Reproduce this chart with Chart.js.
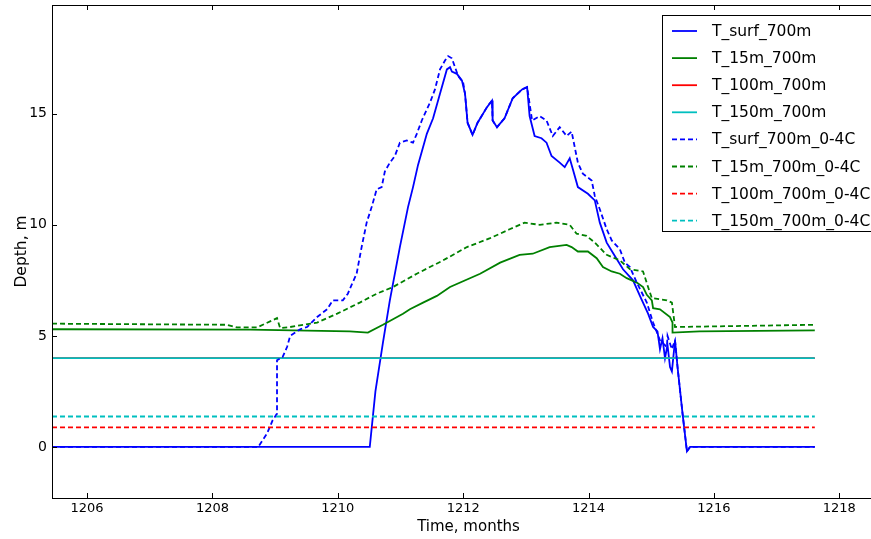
<!DOCTYPE html>
<html>
<head>
<meta charset="utf-8">
<script src="https://cdn.jsdelivr.net/npm/chart.js@4.4.1/dist/chart.umd.min.js"></script>
<style>
  html, body { margin: 0; padding: 0; background: #fff; overflow: hidden; }
  #wrap { width: 890px; height: 539px; }
</style>
</head>
<body>
<div id="wrap"><canvas id="myChart" width="890" height="539"></canvas></div>
<script>
// depth series, [time in months, depth in m]
var surf = [[1205.44,0],[1210.51,0],[1210.60,2.5],[1210.72,4.7],[1210.83,6.6],[1210.99,9.0],[1211.12,10.8],
  [1211.20,11.7],[1211.28,12.7],[1211.42,14.1],[1211.52,14.8],[1211.63,15.9],[1211.74,17.0],[1211.79,17.1],
  [1211.82,16.9],[1211.90,16.8],[1211.98,16.5],[1212.03,15.9],[1212.07,14.6],[1212.15,14.05],[1212.23,14.6],
  [1212.38,15.3],[1212.46,15.6],[1212.47,14.7],[1212.54,14.4],[1212.66,14.8],[1212.79,15.7],[1212.94,16.1],
  [1213.02,16.2],[1213.06,14.9],[1213.14,14.0],[1213.25,13.9],[1213.33,13.7],[1213.41,13.1],[1213.54,12.8],
  [1213.62,12.6],[1213.70,13.0],[1213.75,12.5],[1213.83,11.7],[1213.99,11.4],[1214.10,11.1],[1214.18,10.1],
  [1214.29,9.2],[1214.42,8.6],[1214.55,8.0],[1214.71,7.5],[1214.82,6.8],[1214.95,6.0],[1215.03,5.4],
  [1215.10,5.2],[1215.14,4.4],[1215.18,4.9],[1215.22,4.0],[1215.26,4.6],[1215.30,3.6],[1215.33,3.4],
  [1215.38,4.8],[1215.42,3.6],[1215.50,1.5],[1215.57,-0.2],[1215.62,0],[1217.61,0]];
var t15 = [[1205.44,5.3],[1208.60,5.28],[1210.19,5.2],[1210.48,5.15],[1210.72,5.5],[1211.04,6.0],[1211.15,6.2],
  [1211.36,6.5],[1211.58,6.8],[1211.79,7.2],[1212.27,7.8],[1212.59,8.3],[1212.90,8.65],[1213.11,8.7],
  [1213.38,9.0],[1213.65,9.1],[1213.73,9.0],[1213.83,8.8],[1213.99,8.8],[1214.13,8.5],[1214.23,8.1],
  [1214.37,7.9],[1214.50,7.8],[1214.61,7.6],[1214.69,7.5],[1214.77,7.4],[1214.87,7.2],[1214.93,6.85],
  [1215.01,6.6],[1215.03,6.25],[1215.14,6.2],[1215.30,5.85],[1215.34,5.6],[1215.34,5.15],[1215.77,5.2],
  [1217.61,5.25]];
var t100 = [[1205.44,4.0],[1217.61,4.0]];
var t150 = [[1205.44,4.0],[1217.61,4.0]];
var surfC = [[1205.44,0],[1208.73,0],[1208.87,0.6],[1208.96,1.2],[1209.03,1.5],[1209.03,3.9],[1209.12,4.05],
  [1209.19,4.5],[1209.24,5.0],[1209.40,5.3],[1209.51,5.4],[1209.67,5.85],[1209.83,6.2],[1209.92,6.6],
  [1210.08,6.6],[1210.16,6.9],[1210.22,7.3],[1210.30,7.8],[1210.38,9.0],[1210.46,10.1],[1210.54,10.8],
  [1210.62,11.6],[1210.70,11.7],[1210.75,12.4],[1210.83,12.8],[1210.91,13.1],[1210.99,13.7],[1211.10,13.8],
  [1211.20,13.7],[1211.26,14.1],[1211.34,14.7],[1211.47,15.5],[1211.55,16.1],[1211.63,17.0],[1211.71,17.4],
  [1211.76,17.6],[1211.82,17.5],[1211.87,17.1],[1211.92,16.7],[1212.00,16.4],[1212.03,15.9],[1212.07,14.6],
  [1212.15,14.05],[1212.23,14.6],[1212.38,15.3],[1212.46,15.6],[1212.47,14.7],[1212.54,14.4],[1212.66,14.8],
  [1212.79,15.7],[1212.94,16.1],[1213.02,16.2],[1213.10,14.7],[1213.22,14.9],[1213.33,14.7],[1213.43,14.0],
  [1213.54,14.4],[1213.65,14.0],[1213.73,14.2],[1213.78,13.5],[1213.83,12.8],[1213.91,12.3],[1214.05,12.0],
  [1214.10,11.3],[1214.18,10.7],[1214.29,9.8],[1214.37,9.3],[1214.50,8.9],[1214.58,8.3],[1214.66,8.1],
  [1214.77,7.4],[1214.93,6.5],[1215.03,5.6],[1215.14,4.8],[1215.25,4.5],[1215.26,5.0],[1215.33,4.4],
  [1215.38,4.8],[1215.42,3.6],[1215.50,1.5],[1215.57,-0.2],[1215.62,0],[1217.61,0]];
var t15C = [[1205.44,5.55],[1208.23,5.5],[1208.39,5.38],[1208.71,5.38],[1209.03,5.8],[1209.08,5.35],
  [1209.24,5.4],[1209.67,5.6],[1209.99,6.0],[1210.35,6.5],[1210.62,6.9],[1210.88,7.2],[1211.26,7.8],
  [1211.68,8.4],[1212.06,9.0],[1212.43,9.4],[1212.74,9.8],[1212.98,10.1],[1213.22,10.0],[1213.49,10.1],
  [1213.70,10.0],[1213.81,9.6],[1213.97,9.5],[1214.10,9.2],[1214.29,8.65],[1214.50,8.4],[1214.66,8.0],
  [1214.87,7.9],[1214.95,7.2],[1215.01,6.7],[1215.25,6.6],[1215.33,6.5],[1215.38,5.4],[1217.61,5.5]];
var t100C = [[1205.44,0.88],[1217.61,0.88]];
var t150C = [[1205.44,1.37],[1217.61,1.37]];

var labels = ['T_surf_700m', 'T_15m_700m', 'T_100m_700m', 'T_150m_700m',
  'T_surf_700m_0-4C', 'T_15m_700m_0-4C', 'T_100m_700m_0-4C', 'T_150m_700m_0-4C'];
var series = [surf, t15, t100, t150, surfC, t15C, t100C, t150C];
var colors = ['#0000ff', '#008000', '#ff0000', '#00bfbf', '#0000ff', '#008000', '#ff0000', '#00bfbf'];
var xTicks = [1206, 1208, 1210, 1212, 1214, 1216, 1218];
var yTicks = [0, 5, 10, 15];

var DASH = [5, 3];
var FONT = "'DejaVu Sans'";

var datasets = series.map(function (s, i) {
  return {
    label: labels[i],
    data: s.map(function (p) { return { x: p[0], y: p[1] }; }),
    borderColor: colors[i],
    borderWidth: 1.8,
    borderDash: i >= 4 ? DASH : [],
    pointRadius: 0,
    fill: false,
    tension: 0,
    order: 8 - i   // later series sit on top
  };
});

// frame with inward ticks on every side
var framePlugin = {
  id: 'frame',
  afterDatasetsDraw: function (chart) {
    var a = chart.chartArea, c = chart.ctx;
    var xs = chart.scales.x, ys = chart.scales.y;
    c.save();
    c.strokeStyle = '#000';
    c.lineWidth = 1;
    c.beginPath();
    xTicks.forEach(function (v) {
      var px = Math.round(xs.getPixelForValue(v)) + 0.5;
      c.moveTo(px, a.bottom); c.lineTo(px, a.bottom - 5);
      c.moveTo(px, a.top); c.lineTo(px, a.top + 5);
    });
    yTicks.forEach(function (v) {
      var py = Math.round(ys.getPixelForValue(v)) + 0.5;
      c.moveTo(a.left, py); c.lineTo(a.left + 5, py);
      c.moveTo(a.right, py); c.lineTo(a.right - 5, py);
    });
    c.stroke();
    c.strokeRect(Math.round(a.left) + 0.5, Math.round(a.top) + 0.5,
      Math.round(a.right - a.left), Math.round(a.bottom - a.top));
    c.restore();
  }
};

// boxed legend in the upper right corner
var legendPlugin = {
  id: 'boxLegend',
  afterDraw: function (chart) {
    var c = chart.ctx;
    var bx = 662, by = 15, bw = 215, bh = 216;
    c.save();
    c.fillStyle = '#fff';
    c.fillRect(bx, by, bw, bh);
    c.strokeStyle = '#000';
    c.lineWidth = 1;
    c.strokeRect(bx + 0.5, by + 0.5, bw, bh);
    c.font = '15.5px ' + FONT;
    c.textBaseline = 'middle';
    chart.data.datasets.forEach(function (ds, i) {
      var y = by + 16 + i * 27.1;
      c.beginPath();
      c.strokeStyle = ds.borderColor;
      c.lineWidth = ds.borderWidth;
      c.setLineDash(ds.borderDash);
      c.moveTo(672, y); c.lineTo(697, y);
      c.stroke();
      c.setLineDash([]);
      c.fillStyle = '#000';
      c.fillText(ds.label, 712, y + 1);
    });
    c.restore();
  }
};

function plain(v) { return String(v); }

var ctx = document.getElementById('myChart').getContext('2d');
var myChart = new Chart(ctx, {
  type: 'line',
  data: { datasets: datasets },
  plugins: [framePlugin, legendPlugin],
  options: {
    responsive: false,
    animation: false,
    devicePixelRatio: 1,
    layout: { padding: { top: 5, right: 5, left: 0, bottom: 0 } },
    plugins: { legend: { display: false }, tooltip: { enabled: false } },
    scales: {
      x: {
        type: 'linear',
        min: 1205.44,
        max: 1218.73,
        grid: { display: false, drawTicks: false },
        border: { display: false },
        afterBuildTicks: function (s) { s.ticks = xTicks.map(function (v) { return { value: v }; }); },
        afterFit: function (s) { s.height = 41; s.paddingLeft = 0; s.paddingRight = 0; },
        ticks: { color: '#000', font: { family: FONT, size: 13 }, padding: 3, maxRotation: 0, autoSkip: false, callback: plain },
        title: { display: true, text: 'Time, months', color: '#000', font: { family: FONT, size: 15 }, padding: { top: 0, bottom: 3 } }
      },
      y: {
        min: -2.3,
        max: 19.9,
        grid: { display: false, drawTicks: false },
        border: { display: false },
        afterBuildTicks: function (s) { s.ticks = yTicks.map(function (v) { return { value: v }; }); },
        afterFit: function (s) { s.width = 52; s.paddingTop = 0; s.paddingBottom = 0; },
        ticks: { color: '#000', font: { family: FONT, size: 14 }, padding: 5, autoSkip: false, callback: plain },
        title: { display: true, text: 'Depth, m', color: '#000', font: { family: FONT, size: 15.5 }, padding: { top: 13, bottom: 0 } }
      }
    }
  }
});
</script>
</body>
</html>
